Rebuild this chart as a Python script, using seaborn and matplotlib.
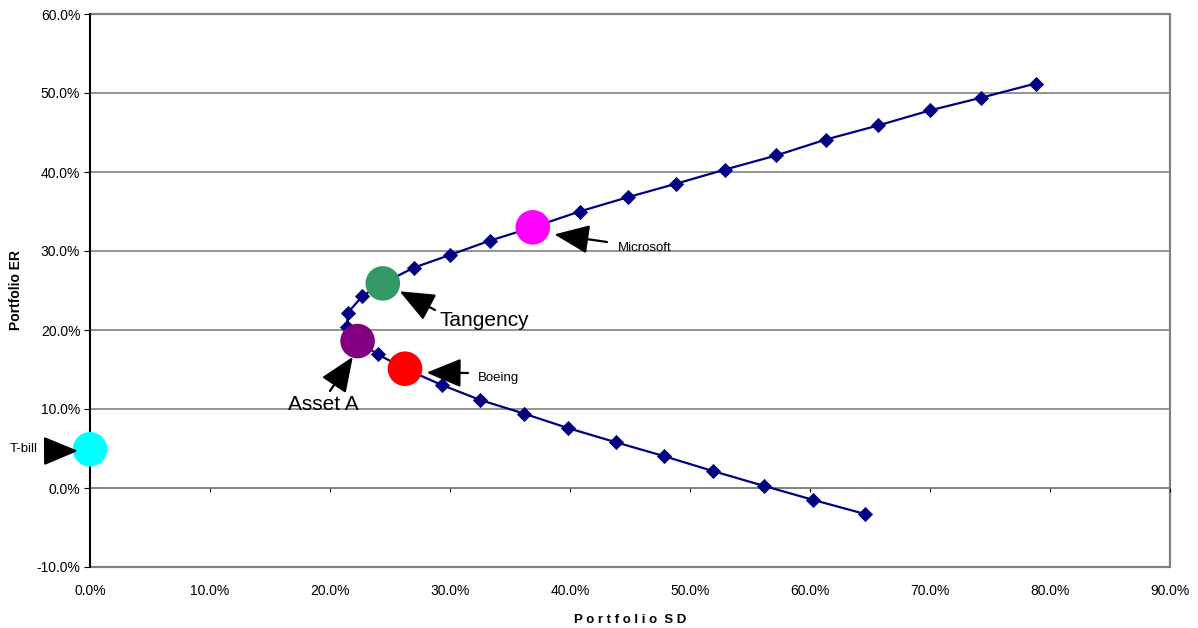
import matplotlib
matplotlib.use("Agg")
import matplotlib.pyplot as plt
import matplotlib.ticker as mticker
from matplotlib.patches import Rectangle
import numpy as np
import pandas as pd
import seaborn as sns

# Efficient frontier of a two-asset portfolio (SD %, ER %)
frontier_sd = [64.6, 60.25, 56.2, 51.9, 47.8, 43.8, 39.8, 36.2, 32.5, 29.3,
               26.25, 24.0, 22.3, 21.4, 21.5, 22.7, 24.4, 27.0, 30.0, 33.3,
               36.9, 40.8, 44.8, 48.8, 52.9, 57.2, 61.3, 65.7, 70.0, 74.25, 78.8]
frontier_er = [-3.3, -1.5, 0.25, 2.15, 4.05, 5.8, 7.6, 9.4, 11.15, 13.05,
               15.1, 16.9, 18.6, 20.4, 22.2, 24.3, 25.9, 27.9, 29.5, 31.3,
               33.0, 35.0, 36.8, 38.5, 40.3, 42.1, 44.1, 45.9, 47.8, 49.4, 51.2]

# Highlighted portfolios
point_names = ["T-bill", "Asset A", "Boeing", "Tangency", "Microsoft"]
point_sd = [0.0, 22.3, 26.25, 24.4, 36.9]
point_er = [4.9, 18.6, 15.1, 25.9, 33.0]
point_colors = ["#00FFFF", "#800080", "#FF0000", "#339966", "#FF00FF"]

x_ticks = [0, 10, 20, 30, 40, 50, 60, 70, 80, 90]
y_ticks = [-10, 0, 10, 20, 30, 40, 50, 60]

sns.set_theme(style="white")
plt.rcParams["font.family"] = ["Liberation Sans", "DejaVu Sans"]
plt.rcParams.update({"text.color": "black", "axes.labelcolor": "black",
                     "xtick.color": "black", "ytick.color": "black"})

fig = plt.figure(figsize=(11.98, 6.28), dpi=100)
ax = fig.add_axes([90 / 1198, 1 - 567 / 628, (1170 - 90) / 1198, (567 - 14) / 628])

frontier = pd.DataFrame({"sd": frontier_sd, "er": frontier_er})
points = pd.DataFrame({"name": point_names, "sd": point_sd, "er": point_er})

sns.lineplot(data=frontier, x="sd", y="er", sort=False, color="#000080",
             linewidth=1.6, ax=ax, zorder=3)
sns.scatterplot(data=frontier, x="sd", y="er", marker="D", s=60, color="#000080",
                edgecolor="#000080", linewidth=0, ax=ax, zorder=4)
sns.scatterplot(data=points, x="sd", y="er", hue="name",
                palette=dict(zip(point_names, point_colors)),
                s=620, linewidth=0, legend=False, ax=ax, zorder=5, clip_on=False)

ax.set_xlim(0, 90)
ax.set_ylim(-10, 60)

# Horizontal gridlines
ax.yaxis.grid(True, color="#808080", linewidth=1.2)
ax.xaxis.grid(False)
ax.set_axisbelow(True)

# Spines: vertical axis black, x axis running through 0%
for s in ["top", "right"]:
    ax.spines[s].set_visible(False)
ax.spines["left"].set_color("black")
ax.spines["left"].set_linewidth(1.4)
ax.spines["bottom"].set_position(("data", 0))
ax.spines["bottom"].set_color("#808080")
ax.spines["bottom"].set_linewidth(1.2)
ax.add_patch(Rectangle((0, 0), 1, 1, transform=ax.transAxes, fill=False,
                       edgecolor="#808080", linewidth=1.6, zorder=0, clip_on=False))
ax.spines["left"].set_zorder(4.5)

ax.set_xticks(x_ticks)
ax.set_yticks(y_ticks)
ax.tick_params(axis="x", direction="out", length=3, width=0.8, color="black",
               labelbottom=False, bottom=True)
ax.tick_params(axis="y", direction="out", length=4, width=0.8, color="black",
               left=True, labelsize=10, pad=3)
ax.yaxis.set_major_formatter(mticker.FuncFormatter(lambda v, p: f"{v:.1f}%"))

# Tick labels along the bottom edge of the plot frame
sec = ax.secondary_xaxis("bottom")
sec.set_xticks(x_ticks)
sec.xaxis.set_major_formatter(mticker.FuncFormatter(lambda v, p: f"{v:.1f}%"))
sec.tick_params(axis="x", length=0, labelsize=10, pad=12)
sec.spines["bottom"].set_visible(False)

ax.set_xlabel("")
sec.set_xlabel("P o r t f o l i o  S D", fontsize=9.5, fontweight="bold", labelpad=12)
ax.set_ylabel("Portfolio ER", fontsize=10, fontweight="bold", labelpad=10)

# Annotation arrows
arrow = dict(arrowstyle="-|>,head_length=1.2,head_width=0.5", color="black",
             linewidth=1.6, mutation_scale=18, shrinkA=0, shrinkB=0)

def px(xp, yp):
    return ((xp - 90) / 12.0, (488 - yp) / 7.9)

ax.annotate("", xy=(point_sd[4] + 1.8, point_er[4] - 0.9), xytext=px(607, 242),
            arrowprops=arrow, zorder=7)
ax.text(*px(618, 248), "Microsoft", fontsize=9.5, va="center", ha="left")

ax.annotate("", xy=(point_sd[3] + 1.4, point_er[3] - 1.0), xytext=px(435, 310),
            arrowprops=arrow, zorder=7)
ax.text(*px(440, 320), "Tangency", fontsize=15, va="center", ha="left")

ax.annotate("", xy=(point_sd[2] + 1.8, point_er[2] - 0.5), xytext=px(468, 373),
            arrowprops=arrow, zorder=7)
ax.text(*px(478, 378), "Boeing", fontsize=9.5, va="center", ha="left")

ax.annotate("", xy=(point_sd[1] - 0.4, point_er[1] - 2.0), xytext=px(330, 391),
            arrowprops=arrow, zorder=7, annotation_clip=False)
ax.text(*px(323, 404), "Asset A", fontsize=15, va="center", ha="center")

ax.annotate("", xy=(point_sd[0] - 1.0, point_er[0] - 0.2), xytext=px(52, 451),
            arrowprops=arrow, zorder=7, annotation_clip=False)
ax.text(*px(10, 449), "T-bill", fontsize=9.5, va="center", ha="left", clip_on=False)

fig.savefig("out.png", dpi=100)
